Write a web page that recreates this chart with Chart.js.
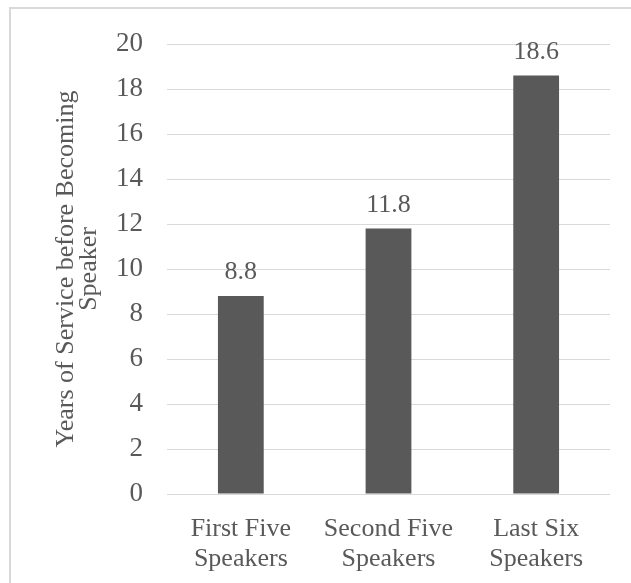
<!DOCTYPE html>
<html>
<head>
<meta charset="utf-8">
<script src="https://cdn.jsdelivr.net/npm/chart.js@4"></script>
<style>
  html, body { margin: 0; padding: 0; background: #ffffff; }
  canvas { display: block; }
</style>
</head>
<body>
<canvas id="chart" width="631" height="583"></canvas>
<script>
// Average years of service before becoming Speaker, by group
const categories = [
  ['First Five', 'Speakers'],
  ['Second Five', 'Speakers'],
  ['Last Six', 'Speakers']
];
const yearsOfService = [8.8, 11.8, 18.6];
const yTicks = [0, 2, 4, 6, 8, 10, 12, 14, 16, 18, 20];
const yAxisTitle = ['Years of Service before Becoming', 'Speaker'];

const TEXT = '#595959';
const SERIF = '"Liberation Serif", "Times New Roman", Times, serif';

// Light frame around the chart, open at the right and bottom edges
const framePlugin = {
  id: 'frame',
  beforeDraw(chart) {
    const ctx = chart.ctx;
    ctx.save();
    ctx.fillStyle = '#ffffff';
    ctx.fillRect(0, 0, chart.width, chart.height);
    ctx.strokeStyle = '#d9d9d9';
    ctx.lineWidth = 2;
    ctx.strokeRect(10, 8, chart.width + 40, chart.height + 40);
    ctx.restore();
  }
};

// Value labels above each bar
const valueLabels = {
  id: 'valueLabels',
  afterDatasetsDraw(chart) {
    const ctx = chart.ctx;
    const meta = chart.getDatasetMeta(0);
    const data = chart.data.datasets[0].data;
    ctx.save();
    ctx.font = '26px ' + SERIF;
    ctx.fillStyle = TEXT;
    ctx.textAlign = 'center';
    ctx.textBaseline = 'alphabetic';
    meta.data.forEach((bar, i) => {
      ctx.fillText(data[i].toFixed(1), bar.x, bar.y - 17);
    });
    ctx.restore();
  }
};

new Chart(document.getElementById('chart'), {
  type: 'bar',
  data: {
    labels: categories,
    datasets: [{
      data: yearsOfService,
      backgroundColor: '#595959',
      borderWidth: 0,
      barPercentage: 0.31,
      categoryPercentage: 1
    }]
  },
  options: {
    responsive: false,
    animation: false,
    layout: { padding: { left: 0, right: 21, top: 44, bottom: 0 } },
    plugins: {
      legend: { display: false },
      tooltip: { enabled: false }
    },
    scales: {
      x: {
        grid: { display: false, drawTicks: false },
        border: { display: false },
        ticks: {
          color: TEXT,
          padding: 20,
          maxRotation: 0,
          autoSkip: false,
          font: { family: SERIF, size: 26, lineHeight: 1.15 }
        },
        afterFit(scale) { scale.height = 89; }
      },
      y: {
        min: 0,
        max: 20,
        afterBuildTicks(scale) {
          scale.ticks = yTicks.map(v => ({ value: v }));
        },
        grid: { color: '#d9d9d9', lineWidth: 1, drawTicks: false },
        border: { display: false },
        ticks: {
          color: TEXT,
          padding: 24,
          font: { family: SERIF, size: 27 }
        },
        title: {
          display: true,
          text: yAxisTitle,
          color: TEXT,
          padding: { top: 55, bottom: 0 },
          font: { family: SERIF, size: 26, lineHeight: 0.88 }
        },
        afterFit(scale) { scale.width = 167; }
      }
    }
  },
  plugins: [framePlugin, valueLabels]
});
</script>
</body>
</html>
